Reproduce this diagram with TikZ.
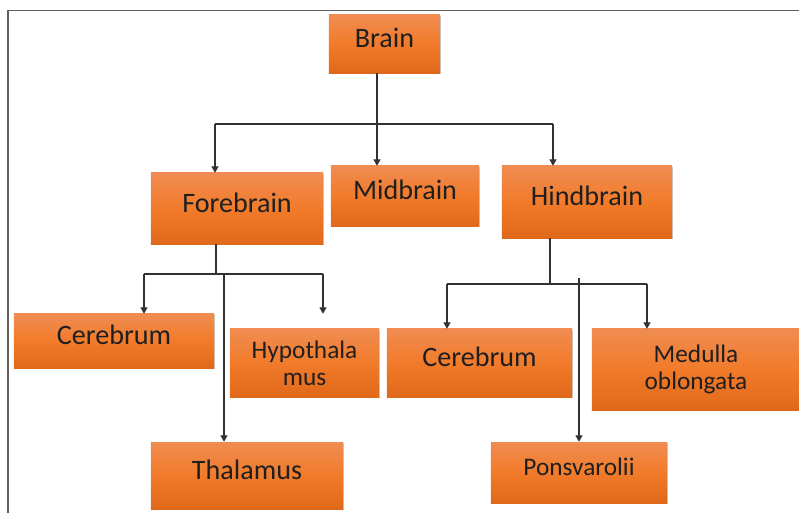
\documentclass[tikz,border=0pt]{standalone}
\usepackage{fontspec}
\setmainfont{Carlito}
\usetikzlibrary{arrows.meta,shadows}

\definecolor{boxtop}{RGB}{240,140,82}
\definecolor{boxmid}{RGB}{241,123,42}
\definecolor{boxbot}{RGB}{224,104,26}
\definecolor{linkgray}{RGB}{50,50,50}
\definecolor{framegray}{RGB}{95,95,95}

\begin{document}
\begin{tikzpicture}[x=0.025cm, y=-0.025cm,
    part/.style={rectangle, top color=boxtop, bottom color=boxbot, middle color=boxmid,
      text=black!88, inner sep=2pt, align=center,
      drop shadow={shadow xshift=0.8pt, shadow yshift=-0.9pt, opacity=0.3, fill=black!70}},
    oneline/.style={part, font=\fontsize{20}{24}\selectfont, text height=14pt, text depth=9pt},
    twoline/.style={part, font=\fontsize{18}{19}\selectfont},
    smallone/.style={part, font=\fontsize{18}{19}\selectfont, text height=13pt, text depth=8.5pt},
    link/.style={draw=linkgray, line width=0.8pt},
    arr/.style={link, -{Triangle[length=4.5pt,width=5pt]}}]
  \useasboundingbox (0,0) rectangle (799,513);

  % Frame
  \draw[framegray, line width=1.1pt] (8,513) -- (8,10.5) -- (799,10.5);

  % Boxes
  \node[oneline, minimum width=2.775cm, minimum height=1.45cm]  (brain)  at (384.5,44)  {Brain};
  \node[oneline, minimum width=4.3cm,   minimum height=1.775cm] (fore)   at (237,208.5) {Forebrain};
  \node[oneline, minimum width=3.7cm,   minimum height=1.5cm]   (mid)    at (405,196)   {Midbrain};
  \node[oneline, minimum width=4.25cm,  minimum height=1.8cm]   (hind)   at (587,202)   {Hindbrain};
  \node[oneline, minimum width=5.0cm,   minimum height=1.35cm]  (cereL)  at (114,341)   {Cerebrum};
  \node[twoline, minimum width=3.725cm, minimum height=1.7cm]   (hypo)   at (304.5,363) {Hypothala\\mus};
  \node[oneline, minimum width=4.8cm,   minimum height=1.675cm] (thal)   at (247,475.5) {Thalamus};
  \node[oneline, minimum width=4.625cm, minimum height=1.7cm]   (cereR)  at (479.5,363) {Cerebrum};
  \node[twoline, minimum width=5.2cm,   minimum height=2.025cm] (medul)  at (696,369.5) {Medulla\\oblongata};
  \node[smallone, minimum width=4.4cm,  minimum height=1.525cm] (pons)   at (579,472.5) {Ponsvarolii};

  % Brain -> three parts
  \coordinate (busA)  at (377,124);
  \coordinate (busAL) at (215,124);
  \coordinate (busAR) at (553,124);
  \draw[link] (brain.south -| busA) -- (busA);
  \draw[link] (busAL) -- (busAR);
  \draw[arr] (busAL) -- (busAL |- fore.north);
  \draw[arr] (busA)  -- (busA |- mid.north);
  \draw[arr] (busAR) -- (busAR |- hind.north);

  % Forebrain -> parts
  \coordinate (busF)  at (216,274);
  \coordinate (busFL) at (144,274);
  \coordinate (busFR) at (323,274);
  \coordinate (tapF)  at (224,274);
  \draw[link] (fore.south -| busF) -- (busF);
  \draw[link] (busFL) -- (busFR);
  \draw[arr] (busFL) -- (busFL |- cereL.north);
  \draw[arr] (busFR) -- (busFR |- cereL.north);
  \draw[arr] (tapF)  -- (tapF |- thal.north);

  % Hindbrain -> parts
  \coordinate (busH)  at (550,284);
  \coordinate (busHL) at (447,284);
  \coordinate (busHR) at (647,284);
  \coordinate (tapH)  at (579,278);
  \draw[link] (hind.south -| busH) -- (busH);
  \draw[link] (busHL) -- (busHR);
  \draw[arr] (busHL) -- (busHL |- cereR.north);
  \draw[arr] (busHR) -- (busHR |- medul.north);
  \draw[arr] (tapH)  -- (tapH |- pons.north);
\end{tikzpicture}
\end{document}
